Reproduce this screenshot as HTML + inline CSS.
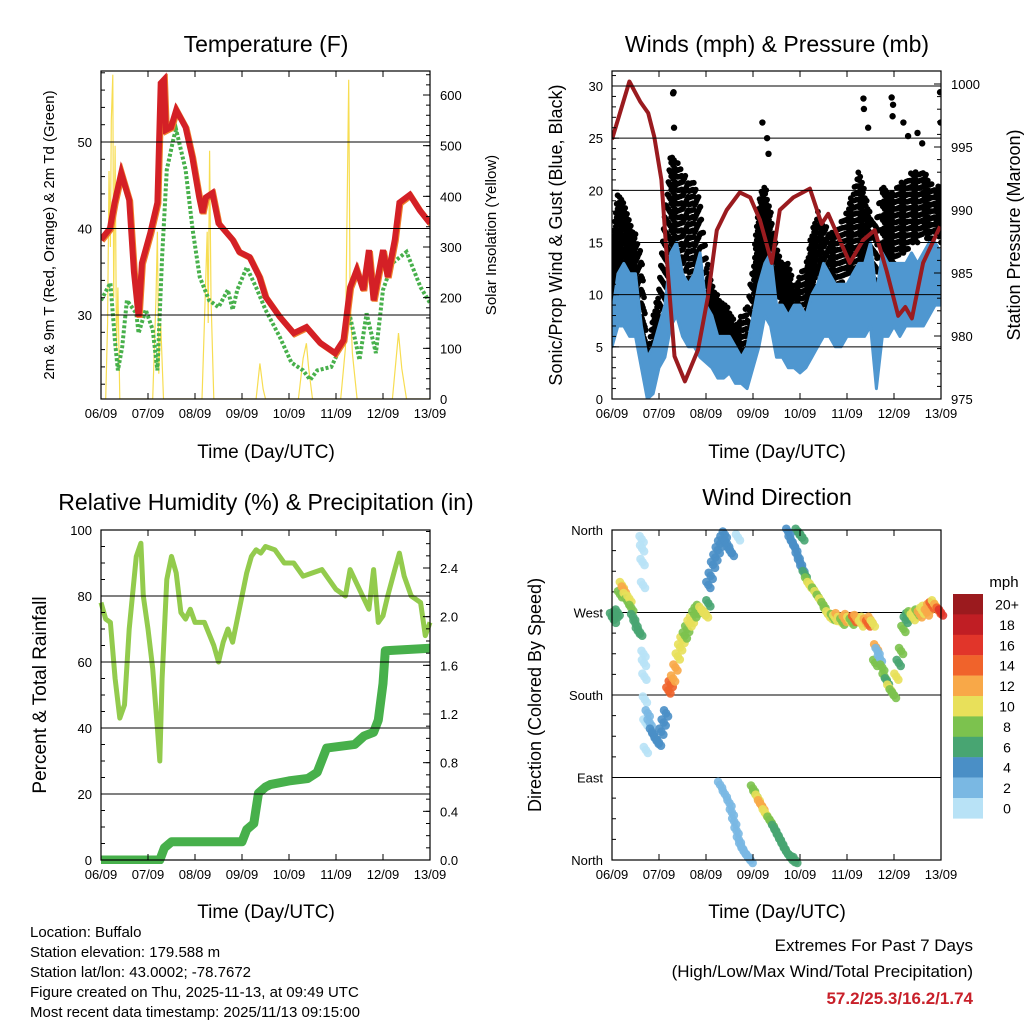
<!DOCTYPE html>
<html><head><meta charset="utf-8"><style>
body{margin:0;background:#fff;}
svg{font-family:"Liberation Sans",sans-serif;}
</style></head><body>
<svg id="s" width="1024" height="1024" viewBox="0 0 1024 1024" xmlns="http://www.w3.org/2000/svg">
<text x="266" y="52" font-size="23" text-anchor="middle">Temperature (F)</text>
<text x="777" y="52" font-size="23" text-anchor="middle">Winds (mph) &amp; Pressure (mb)</text>
<text x="266" y="510" font-size="23" text-anchor="middle">Relative Humidity (%) &amp; Precipitation (in)</text>
<text x="777" y="505" font-size="23" text-anchor="middle">Wind Direction</text>
<text transform="translate(54,235) rotate(-90)" font-size="15" text-anchor="middle">2m &amp; 9m T (Red, Orange) &amp; 2m Td (Green)</text>
<text transform="translate(496,235) rotate(-90)" font-size="15" text-anchor="middle">Solar Insolation (Yellow)</text>
<text transform="translate(562,235) rotate(-90)" font-size="18" text-anchor="middle">Sonic/Prop Wind &amp; Gust (Blue, Black)</text>
<text transform="translate(1020,235) rotate(-90)" font-size="18" text-anchor="middle">Station Pressure (Maroon)</text>
<text transform="translate(46,695) rotate(-90)" font-size="19" text-anchor="middle">Percent &amp; Total Rainfall</text>
<text transform="translate(541,695) rotate(-90)" font-size="18" text-anchor="middle">Direction (Colored By Speed)</text>
<text x="266" y="458" font-size="19" text-anchor="middle">Time (Day/UTC)</text>
<text x="777" y="458" font-size="19" text-anchor="middle">Time (Day/UTC)</text>
<text x="266" y="918" font-size="19" text-anchor="middle">Time (Day/UTC)</text>
<text x="777" y="918" font-size="19" text-anchor="middle">Time (Day/UTC)</text>
<g font-size="15">
<text x="30" y="937">Location: Buffalo</text>
<text x="30" y="957">Station elevation: 179.588 m</text>
<text x="30" y="977">Station lat/lon: 43.0002; -78.7672</text>
<text x="30" y="997">Figure created on Thu, 2025-11-13, at 09:49 UTC</text>
<text x="30" y="1017">Most recent data timestamp: 2025/11/13 09:15:00</text>
</g>
<text x="973" y="951" font-size="17" text-anchor="end">Extremes For Past 7 Days</text>
<text x="973" y="977" font-size="17" text-anchor="end">(High/Low/Max Wind/Total Precipitation)</text>
<text x="973" y="1004" font-size="17" font-weight="bold" fill="#c8202a" text-anchor="end">57.2/25.3/16.2/1.74</text>
<text x="1004" y="587" font-size="15" text-anchor="middle">mph</text>
</svg>
<script>
const dayLabels=["06/09","07/09","08/09","09/09","10/09","11/09","12/09","13/09"];
const tDays=[0,0.19,0.29,0.43,0.6,0.7,0.8,0.87,1.05,1.2,1.27,1.34,1.38,1.49,1.6,1.8,1.94,2.09,2.16,2.23,2.37,2.5,2.8,2.94,3.16,3.37,3.5,3.8,4.1,4.37,4.66,4.98,5.16,5.3,5.44,5.58,5.7,5.8,6.0,6.1,6.25,6.35,6.57,6.78,7.0];
const tempF=[38.7,40,43,46.4,43.3,35,29.8,36,39.5,43,56.8,57.2,51.4,51.7,53.7,51.7,48.3,43.6,41.8,43.6,44.1,40.6,38.7,37.3,36.7,34.4,32.1,29.8,27.9,28.6,26.8,25.6,27.1,33.2,35.2,32.9,37.5,31.7,37.5,34.4,38.7,43,43.9,42.1,40.6];
const tdDays=[0,0.2,0.3,0.36,0.45,0.55,0.75,0.8,0.95,1.1,1.2,1.3,1.4,1.55,1.6,1.8,1.95,2.1,2.3,2.5,2.7,2.8,2.9,3.1,3.3,3.5,3.8,4.05,4.3,4.45,4.6,4.9,5.1,5.3,5.5,5.65,5.85,6.0,6.2,6.5,6.8,7.0];
const dewF=[31.7,33.7,26.8,23.6,26.3,31.7,30.2,27.9,30.6,28.3,23.6,36.7,46.8,50.6,51.4,46.8,39.8,34.4,31.7,30.9,32.9,30.6,32.9,35.5,33.2,30.6,27.5,24.5,23.6,22.5,23.6,24,26.3,29.8,24.8,30.2,25.6,32.9,36,37.3,33.2,31.4];
const solarDays=[0,0.1,0.14,0.17,0.2,0.22,0.25,0.27,0.3,0.33,0.36,0.4,1.1,1.17,1.2,1.23,1.27,1.33,2.15,2.2,2.26,2.28,2.31,2.34,2.4,3.3,3.38,3.45,3.5,4.2,4.3,4.37,4.42,4.5,5.1,5.2,5.27,5.3,5.35,5.45,6.2,6.33,6.4,6.5,7];
const solarW=[0,0,150,450,300,550,640,200,500,100,220,0,0,200,330,50,150,0,0,150,330,150,490,200,0,0,70,20,0,0,80,110,60,0,0,100,630,200,90,0,0,130,60,0,0];
const wDays=[0,0.125,0.25,0.375,0.5,0.625,0.75,0.875,1,1.125,1.25,1.375,1.5,1.625,1.75,1.875,2,2.125,2.25,2.375,2.5,2.625,2.75,2.875,3,3.125,3.25,3.375,3.5,3.625,3.75,3.875,4,4.125,4.25,4.375,4.5,4.625,4.75,4.875,5,5.125,5.25,5.375,5.5,5.625,5.75,5.875,6,6.125,6.25,6.375,6.5,6.625,6.75,6.875,7];
const windHi=[8,12,13,12,12,7,4,5,7,9,14,15,12,11,12,14,9,8,6,6,6,5,4,5,8,11,13,14,9,9,8,9,9,8,10,11,13,12,11,11,11,12,13,13,15,10,14,13,13,13,13,14,13,14,15,15,14];
const windLo=[5,7,7,6,6,3,0,0.5,3,4,7,8,6,5,5,4,3.5,3,2,2,2.5,1.5,1.5,1,3,5,8,7,4,4,3,3,2.5,3,4,5,6,6,5,5,6,6,6,6,7,1,6,6,7,6,7,7,7,7,8,9,9];
const gustHi=[15,20,19,17,16,14,5,8,11,18,24,23,22,21,21,19,14,11,10,9,9,7,8,9,13,19,21,18,15,13,13,11,12,13,16,18,17,16,16,17,18,20,22,20,18,17,21,20,20,21,21,22,22,22,21,20,21];
const gustLo=[8,10,10,9,8,6,1,2,4,8,12,12,13,11,12,10,7,6,5,4,3,3,3,4,8,10,13,12,10,9,8,7,7,8,10,12,12,10,10,11,12,12,13,12,12,8,13,13,13,14,14,15,15,16,15,16,15];
const gustOutDays=[1.3,1.31,1.32,3.2,3.3,3.33,5.35,5.36,5.45,5.95,5.97,5.98,6.2,6.3,6.5,6.6,6.98,6.99];
const gustOut=[29.3,29.4,26,26.5,25,23.5,28.8,27.8,26,28.9,27.1,28.2,26.5,25.2,25.5,24.5,29.4,26.5];
const pDays=[0,0.37,0.6,0.77,0.9,1.05,1.19,1.33,1.55,1.83,2.04,2.23,2.44,2.72,2.94,3.15,3.4,3.57,3.86,4.21,4.46,4.6,5.06,5.34,5.59,5.84,6.09,6.24,6.38,6.62,6.98];
const presMb=[995.6,1000.2,998.6,997.7,995.8,992.4,985,978.4,976.4,978.9,983.1,988.4,990,991.4,991,989.2,985.8,990,991,991.7,988.9,989.7,985.8,987.6,988.4,985.2,981.6,982.3,981.4,985.8,988.7];
const rhDays=[0,0.1,0.2,0.3,0.4,0.5,0.6,0.75,0.85,0.9,1,1.1,1.2,1.25,1.3,1.4,1.5,1.6,1.7,1.8,1.9,2,2.2,2.4,2.5,2.6,2.7,2.8,2.9,3,3.1,3.2,3.3,3.4,3.5,3.7,3.9,4.1,4.3,4.5,4.7,4.9,5,5.2,5.3,5.5,5.7,5.8,5.9,6,6.1,6.25,6.35,6.45,6.6,6.8,6.9,7];
const rhPct=[78,73,72,55,43,47,70,92,96,80,70,58,40,30,55,85,92,87,75,73,76,72,72,65,60,66,70,66,73,80,87,92,94,93,95,94,90,90,86,87,88,84,82,80,88,82,76,88,72,74,80,88,93,86,80,78,68,72];
const prDays=[0,1.25,1.35,1.5,3.0,3.1,3.25,3.35,3.5,3.6,4.0,4.4,4.6,4.8,5.4,5.6,5.8,5.9,6.0,6.05,7.0];
const prIn=[0,0,0.1,0.15,0.15,0.25,0.3,0.55,0.6,0.62,0.65,0.67,0.72,0.92,0.95,1.02,1.05,1.15,1.45,1.72,1.74];
const dirDays=[0,0.04,0.08,0.12,0.17,0.21,0.25,0.29,0.33,0.37,0.41,0.45,0.5,0.55,0.6,0.63,0.64,0.65,0.66,0.67,0.68,0.69,0.7,0.71,0.72,0.76,0.8,0.85,0.9,0.95,1.0,1.05,1.1,1.15,1.2,1.25,1.3,1.35,1.4,1.45,1.5,1.55,1.6,1.65,1.7,1.75,1.8,1.85,1.9,1.95,2.0,2.05,2.05,2.1,2.15,2.2,2.25,2.3,2.35,2.4,2.45,2.5,2.55,2.3,2.4,2.5,2.55,2.6,2.65,2.7,2.75,2.8,2.85,2.9,2.95,2.68,3.0,3.05,3.1,3.15,3.2,3.25,3.3,3.35,3.4,3.45,3.5,3.55,3.6,3.65,3.7,3.75,3.8,3.85,3.9,3.95,4.0,4.05,3.75,3.8,3.85,3.9,3.95,4.0,4.05,4.1,4.15,4.2,4.25,4.3,4.35,4.4,4.45,4.5,4.55,4.6,4.65,4.7,4.75,4.8,4.85,4.9,4.95,5.0,5.05,5.1,5.15,5.2,5.25,5.3,5.35,5.4,5.45,5.5,5.55,5.6,5.62,5.65,5.7,5.75,5.8,5.85,5.9,5.95,6.0,6.05,6.1,6.15,6.2,6.25,6.3,6.35,6.4,6.45,6.5,6.55,6.6,6.65,6.7,6.75,6.8,6.85,6.9,6.95,7.0];
const dirDeg=[266,262,268,270,290,300,295,288,282,285,275,265,258,250,248,350,340,325,300,225,215,200,175,150,120,160,150,140,135,130,128,140,150,160,185,192,198,210,222,232,240,245,252,258,262,268,272,275,273,270,268,280,300,310,322,330,338,345,350,355,345,338,335,82,72,62,52,42,32,22,15,10,6,3,0,352,78,72,68,62,58,52,48,44,40,35,30,25,20,15,10,6,3,1,0,358,355,352,358,350,345,340,332,325,318,312,305,300,298,294,290,286,282,278,272,268,266,265,264,266,262,260,263,265,262,260,263,264,262,258,262,260,258,262,258,215,232,228,220,210,200,195,188,183,180,200,215,228,252,262,266,268,265,268,270,268,272,274,270,276,278,280,276,272,270];
const dirSpd=[6,7,6,6,9,11,12,10,9,10,8,6,6,7,6,1,1,0,1,1,0,1,1,0,1,3,3,4,4,5,4,4,5,4,14,15,13,12,11,10,10,9,9,10,10,9,8,9,10,11,10,6,5,4,4,5,4,5,4,5,4,5,4,3,2,3,3,2,3,2,3,2,3,2,3,1,8,9,11,12,13,11,10,9,8,7,7,6,7,6,7,6,6,7,6,6,7,6,4,5,4,5,4,5,5,6,9,10,10,9,10,9,10,9,8,10,11,9,10,12,11,9,13,12,10,9,14,13,12,10,11,12,14,13,11,9,12,2,3,8,9,7,10,8,9,10,7,9,8,6,7,9,10,11,9,12,10,11,13,12,14,11,13,15,16,17,14,13,12];
const cbLabels=["20+","18","16","14","12","10","8","6","4","2","0"];
const cbColors=["#9b1a1e","#c01e24","#e1352a","#f0632b","#f8a848","#e8e05a","#7cc24e","#48a572","#4a8fc6","#7ab8e3","#b8e2f6"];

const NS="http://www.w3.org/2000/svg";
const svg=document.getElementById('s');
function mk(tag,attrs,parent){const e=document.createElementNS(NS,tag);for(const k in attrs)e.setAttribute(k,attrs[k]);(parent||svg).appendChild(e);return e;}
function lin(d0,d1,r0,r1){return v=>r0+(v-d0)/(d1-d0)*(r1-r0);}
function interp(xs,ys,x){for(let i=1;i<xs.length;i++){if(x<=xs[i]){const f=(x-xs[i-1])/(xs[i]-xs[i-1]);return ys[i-1]+f*(ys[i]-ys[i-1]);}}return ys[ys.length-1];}

function panel(name,x0,y0,x1,y1){
  const g=mk('g',{});
  
  
  return {g,x0,y0,x1,y1,x:lin(0,7,x0,x1)};
}
function frame(P){
  const r=mk('rect',{x:P.x0,y:P.y0,width:P.x1-P.x0,height:P.y1-P.y0,fill:'none',stroke:'#000','stroke-width':1.2},P.g);
  
  
}
function xAxis(P){
  for(let i=0;i<=7;i++){
    const xx=P.x(i);
    mk('line',{x1:xx,x2:xx,y1:P.y1,y2:P.y1-6,stroke:'#000'},P.g);
    mk('line',{x1:xx,x2:xx,y1:P.y0,y2:P.y0+6,stroke:'#000'},P.g);
    const t=mk('text',{x:xx,y:P.y1+19,'font-size':13,'text-anchor':'middle'},P.g);
    t.textContent=dayLabels[i];
    
    
  }
}
function yTicks(P,side,scale,ticks,labels,minor,grid,fs){
  ticks.forEach((v,i)=>{
    const yy=scale(v);
    if(grid) mk('line',{x1:P.x0,x2:P.x1,y1:yy,y2:yy,stroke:'#000','stroke-width':1},P.g);
    const xa=side==='l'?P.x0:P.x1, dir=side==='l'?1:-1;
    mk('line',{x1:xa,x2:xa+dir*7,y1:yy,y2:yy,stroke:'#000'},P.g);
    const t=mk('text',{x:side==='l'?P.x0-9:P.x1+10,y:yy+5,'font-size':fs||13,'text-anchor':side==='l'?'end':'start'},P.g);
    t.textContent=labels[i];
    
    
  });
  minor.forEach(v=>{const yy=scale(v);const xa=side==='l'?P.x0:P.x1,dir=side==='l'?1:-1;
    mk('line',{x1:xa,x2:xa+dir*4,y1:yy,y2:yy,stroke:'#000'},P.g);});
}
function path(xs,ys,fx,fy){return xs.map((d,i)=>(i?'L':'M')+fx(d).toFixed(1)+' '+fy(ys[i]).toFixed(1)).join(' ');}
function range(a,b,s){const r=[];for(let v=a;v<=b+1e-9;v+=s)r.push(+v.toFixed(3));return r;}

// Panel 1: temperature
const P1=panel('temperature-panel',101,71,430,399);
const tY=lin(30,40,315,228.5), sY=lin(0,600,399,95);
const cl1=mk('clipPath',{id:'c1'});mk('rect',{x:101,y:71,width:329,height:328},cl1);
const d1=mk('g',{'clip-path':'url(#c1)'},P1.g);
let e=mk('path',{d:path(solarDays,solarW,P1.x,sY),fill:'none',stroke:'#f7dd52','stroke-width':1.2},d1);

e=mk('path',{d:path(tdDays,dewF,P1.x,tY),fill:'none',stroke:'#47b04b','stroke-width':4,'stroke-dasharray':'3 2'},d1);

e=mk('path',{d:path(tDays,tempF,P1.x,tY),fill:'none',stroke:'#f07f2a','stroke-width':6,transform:'translate(1,1)'},d1);

e=mk('path',{d:path(tDays,tempF,P1.x,tY),fill:'none',stroke:'#d42026','stroke-width':6},d1);

frame(P1);xAxis(P1);
yTicks(P1,'l',tY,[30,40,50],['30','40','50'],range(22,58,2),true);
yTicks(P1,'r',sY,[0,100,200,300,400,500,600],['0','100','200','300','400','500','600'],range(0,640,20),false);

// Panel 2: winds
const P2=panel('winds-panel',612,71,941,399);
const wY=lin(0,30,399,86), pY=lin(975,1000,399,84);
const cl2=mk('clipPath',{id:'c2'});mk('rect',{x:612,y:71,width:329,height:328},cl2);
const d2=mk('g',{'clip-path':'url(#c2)'},P2.g);
yTicks(P2,'l',wY,[0,5,10,15,20,25,30],['0','5','10','15','20','25','30'],range(0,31,1),true);
yTicks(P2,'r',pY,[975,980,985,990,995,1000],['975','980','985','990','995','1000'],range(975,1000,1),false);
const gg=mk('g',{fill:'#000'},d2);

let k=0;
for(let t=0;t<=7;t+=0.02){
  const lo=interp(wDays,gustLo,t), hi=interp(wDays,gustHi,t);
  const off=((k*7)%5)*0.25; k++;
  for(let v=lo+off;v<=hi;v+=1.3){
    mk('circle',{cx:P2.x(t).toFixed(1),cy:wY(v).toFixed(1),r:2.9},gg);
  }
}
gustOutDays.forEach((d,i)=>{const c=mk('circle',{cx:P2.x(d),cy:wY(gustOut[i]),r:3.2,fill:'#000'},d2);
});
const band=(lo,hi)=>path(wDays,hi,P2.x,wY)+' '+wDays.slice().reverse().map((d,i)=>'L'+P2.x(d).toFixed(1)+' '+wY(lo[lo.length-1-i]).toFixed(1)).join(' ')+'Z';
e=mk('path',{d:band(windLo,windHi),fill:'#4f97d0',stroke:'#4f97d0','stroke-width':3,'stroke-linejoin':'round'},d2);

e=mk('path',{d:path(pDays,presMb,P2.x,pY),fill:'none',stroke:'#9a1b1f','stroke-width':4,'stroke-linejoin':'round'},d2);

frame(P2);xAxis(P2);

// Panel 3: RH
const P3=panel('humidity-panel',101,530,430,860);
const hY=lin(0,100,860,530), rY=lin(0,2.4,860,568);
const cl3=mk('clipPath',{id:'c3'});mk('rect',{x:97,y:526,width:337,height:338},cl3);
const d3=mk('g',{'clip-path':'url(#c3)'},P3.g);
yTicks(P3,'l',hY,[0,20,40,60,80,100],['0','20','40','60','80','100'],range(0,100,5),true);
yTicks(P3,'r',rY,[0,0.4,0.8,1.2,1.6,2.0,2.4],['0.0','0.4','0.8','1.2','1.6','2.0','2.4'],range(0,2.7,0.1),false);
e=mk('path',{d:path(rhDays,rhPct,P3.x,hY),fill:'none',stroke:'#93cb4d','stroke-width':5,'stroke-linejoin':'round'},d3);

e=mk('path',{d:path(prDays,prIn,P3.x,rY),fill:'none',stroke:'#47b04b','stroke-width':9,'stroke-linejoin':'round'},d3);

frame(P3);xAxis(P3);

// Panel 4: direction
const P4=panel('direction-panel',612,530,941,860);
const dY=lin(360,0,530,860);
yTicks(P4,'l',dY,[360,270,180,90,0],['North','West','South','East','North'],range(0,360,22.5),true);
const colorFor=s=>cbColors[10-Math.min(10,Math.floor(s/2))];
dirDays.forEach((d,i)=>{
  [[-2,-3],[0,0],[2,3]].forEach(o=>{
    const c=mk('circle',{cx:P4.x(d)+o[0],cy:dY(dirDeg[i])+o[1],r:4.3,fill:colorFor(dirSpd[i]),opacity:0.9},P4.g);
    
    
  });
});
frame(P4);xAxis(P4);
cbLabels.forEach((l,i)=>{
  const r=mk('rect',{x:953,y:594+i*20.4,width:30,height:20.6,fill:cbColors[i]});
  
  const t=mk('text',{x:1007,y:594+i*20.4+15.5,'font-size':14,'text-anchor':'middle'});
  t.textContent=l;
});
</script>
</body></html>
